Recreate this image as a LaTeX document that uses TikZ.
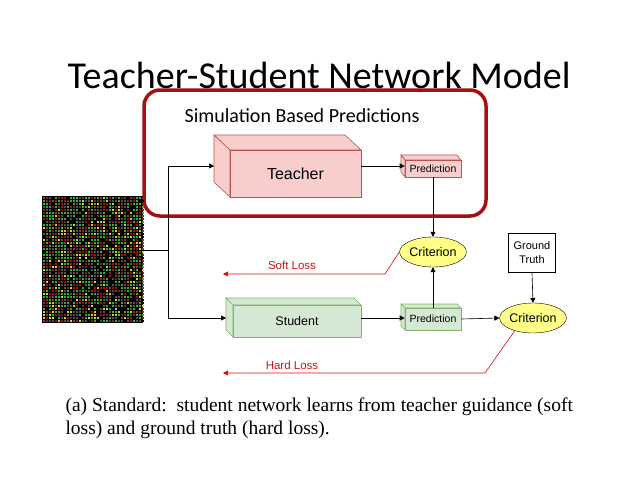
\documentclass[tikz,border=0pt]{standalone}
\usepackage{fontspec}
\setmainfont{Liberation Sans}
\newfontfamily\calfont{Carlito}
\newfontfamily\capfont{Liberation Serif}
\usetikzlibrary{arrows.meta,shapes.geometric}
\definecolor{tfill}{HTML}{F8CECC}\definecolor{tdraw}{HTML}{B85450}
\definecolor{sfill}{HTML}{D5E8D4}\definecolor{sdraw}{HTML}{82B366}
\definecolor{cfill}{HTML}{FFFF88}\definecolor{lossred}{HTML}{CC1111}
\definecolor{boxred}{HTML}{A50F12}
\definecolor{mgreen}{HTML}{30B030}\definecolor{mred}{HTML}{A01010}
\definecolor{myellow}{HTML}{D0D030}\definecolor{mgray}{HTML}{505050}
\tikzset{
 conn/.style={-{Triangle[length=5pt,width=5pt]},black,line width=0.6pt},
 loss/.style={-{Triangle[length=5pt,width=5pt]},lossred,line width=0.6pt},
 crit/.style={ellipse,draw=black,fill=cfill,minimum width=62pt,minimum height=30pt,inner sep=0pt,font=\fontsize{12.5}{13}\selectfont},
 losslbl/.style={text=lossred,font=\fontsize{11.5}{12}\selectfont}
}
\begin{document}
\begin{tikzpicture}[x=1pt,y=-1pt]
\useasboundingbox (0,0) rectangle (638,493);
\node[font=\calfont\fontsize{38}{40}\selectfont] (title) at (319,75) {Teacher-Student Network Model};
\node[draw=boxred,line width=3.5pt,rounded corners=16pt,minimum width=342pt,minimum height=126pt,inner sep=0pt] (simbox) at (315,153) {};
\node[font=\calfont\fontsize{20}{21}\selectfont] (simlbl) at (302,116) {Simulation Based Predictions};
% teacher cuboid
\path[fill=tfill,draw=tdraw,line width=0.6pt] (230,150)--(214,135)--(345,135)--(361,150)--cycle;
\path[fill=tfill,draw=tdraw,line width=0.6pt] (230,150)--(214,135)--(214,182)--(230,197)--cycle;
\node[fill=tfill,draw=tdraw,line width=0.6pt,minimum width=131pt,minimum height=47pt,inner sep=0pt,font=\fontsize{16}{17}\selectfont] (teacher) at (295.5,173.5) {Teacher};
% teacher prediction
\path[fill=tfill,draw=tdraw,line width=0.6pt] (405,160)--(401,155)--(457,155)--(461,160)--cycle;
\path[fill=tfill,draw=tdraw,line width=0.6pt] (405,160)--(401,155)--(401,172)--(405,177)--cycle;
\node[fill=tfill,draw=tdraw,line width=0.6pt,minimum width=56pt,minimum height=17pt,inner sep=0pt,font=\fontsize{10.5}{11}\selectfont] (tpred) at (433,168.5) {Prediction};
% student cuboid
\path[fill=sfill,draw=sdraw,line width=0.6pt] (233,305)--(226,298)--(354,298)--(361,305)--cycle;
\path[fill=sfill,draw=sdraw,line width=0.6pt] (233,305)--(226,298)--(226,330)--(233,337)--cycle;
\node[fill=sfill,draw=sdraw,line width=0.6pt,minimum width=128pt,minimum height=32pt,inner sep=0pt,font=\fontsize{12.5}{13}\selectfont] (student) at (297,321) {Student};
% student prediction
\path[fill=sfill,draw=sdraw,line width=0.6pt] (405,308)--(401,304)--(457,304)--(461,308)--cycle;
\path[fill=sfill,draw=sdraw,line width=0.6pt] (405,308)--(401,304)--(401,326)--(405,330)--cycle;
\node[fill=sfill,draw=sdraw,line width=0.6pt,minimum width=56pt,minimum height=22pt,inner sep=0pt,font=\fontsize{10.5}{11}\selectfont] (spred) at (433,319) {Prediction};
% criteria
\node[crit] (crit1) at (433,252) {Criterion};
\node[crit] (crit2) at (533,318) {Criterion};
\node[draw=black,fill=white,line width=0.6pt,minimum width=47pt,minimum height=39pt,inner sep=0pt,align=center,font=\fontsize{11}{14}\selectfont] (gt) at (532,252.5) {Ground\\Truth};
% microarray image
\fill[black] (42,196) rectangle (143,323);
\pgfmathsetseed{7}
\foreach \i in {0,...,33}{\foreach \j in {0,...,41}{
 \pgfmathtruncatemacro\k{int(rnd*8)}
 \ifcase\k \def\cc{mred}\or\def\cc{mgreen}\or\def\cc{myellow}\or\def\cc{mgray}\or\def\cc{black}\or\def\cc{mgreen}\or\def\cc{mgray}\else\def\cc{mred}\fi
 \fill[\cc] (42.5+\i*3,196.5+\j*3) rectangle ++(2.2,2.2);
}}
\node[inner sep=0pt,minimum width=101pt,minimum height=127pt] (img) at (92.5,259.5) {};
% connectors
\coordinate (split) at (168,250);
\draw[line width=0.6pt] (img.east|-split) -- (split);
\coordinate (tin) at (214,166);
\coordinate (sin) at (226,318);
\draw[conn] (split) |- (tin);
\draw[conn] (split) |- (sin);
\draw[conn] (teacher.east|-tin) -- (tin-|tpred.west);
\draw[conn] (student.east|-sin) -- (sin-|spred.west);
\draw[conn] (tpred.south) -- (crit1.north);
\draw[conn] (spred.north) -- (crit1.south);
\draw[conn] (spred.east) -- (crit2.west);
\draw[conn] (gt.south) -- (crit2.north);
\coordinate (sl) at (223,274);
\coordinate (hl) at (223,373);
\draw[loss] (crit1.west) -- (385,274) -- (sl);
\draw[loss] (crit2.-145) -- (485,373) -- (hl);
\node[losslbl] (softlbl) at (292,265) {Soft Loss};
\node[losslbl] (hardlbl) at (292,365) {Hard Loss};
\node[anchor=west,align=left,font=\capfont\fontsize{19.5}{23}\selectfont] (cap) at (62,418.5) {(a) Standard:\ \ student network learns from teacher guidance (soft\\loss) and ground truth (hard loss).};
\end{tikzpicture}
\end{document}
